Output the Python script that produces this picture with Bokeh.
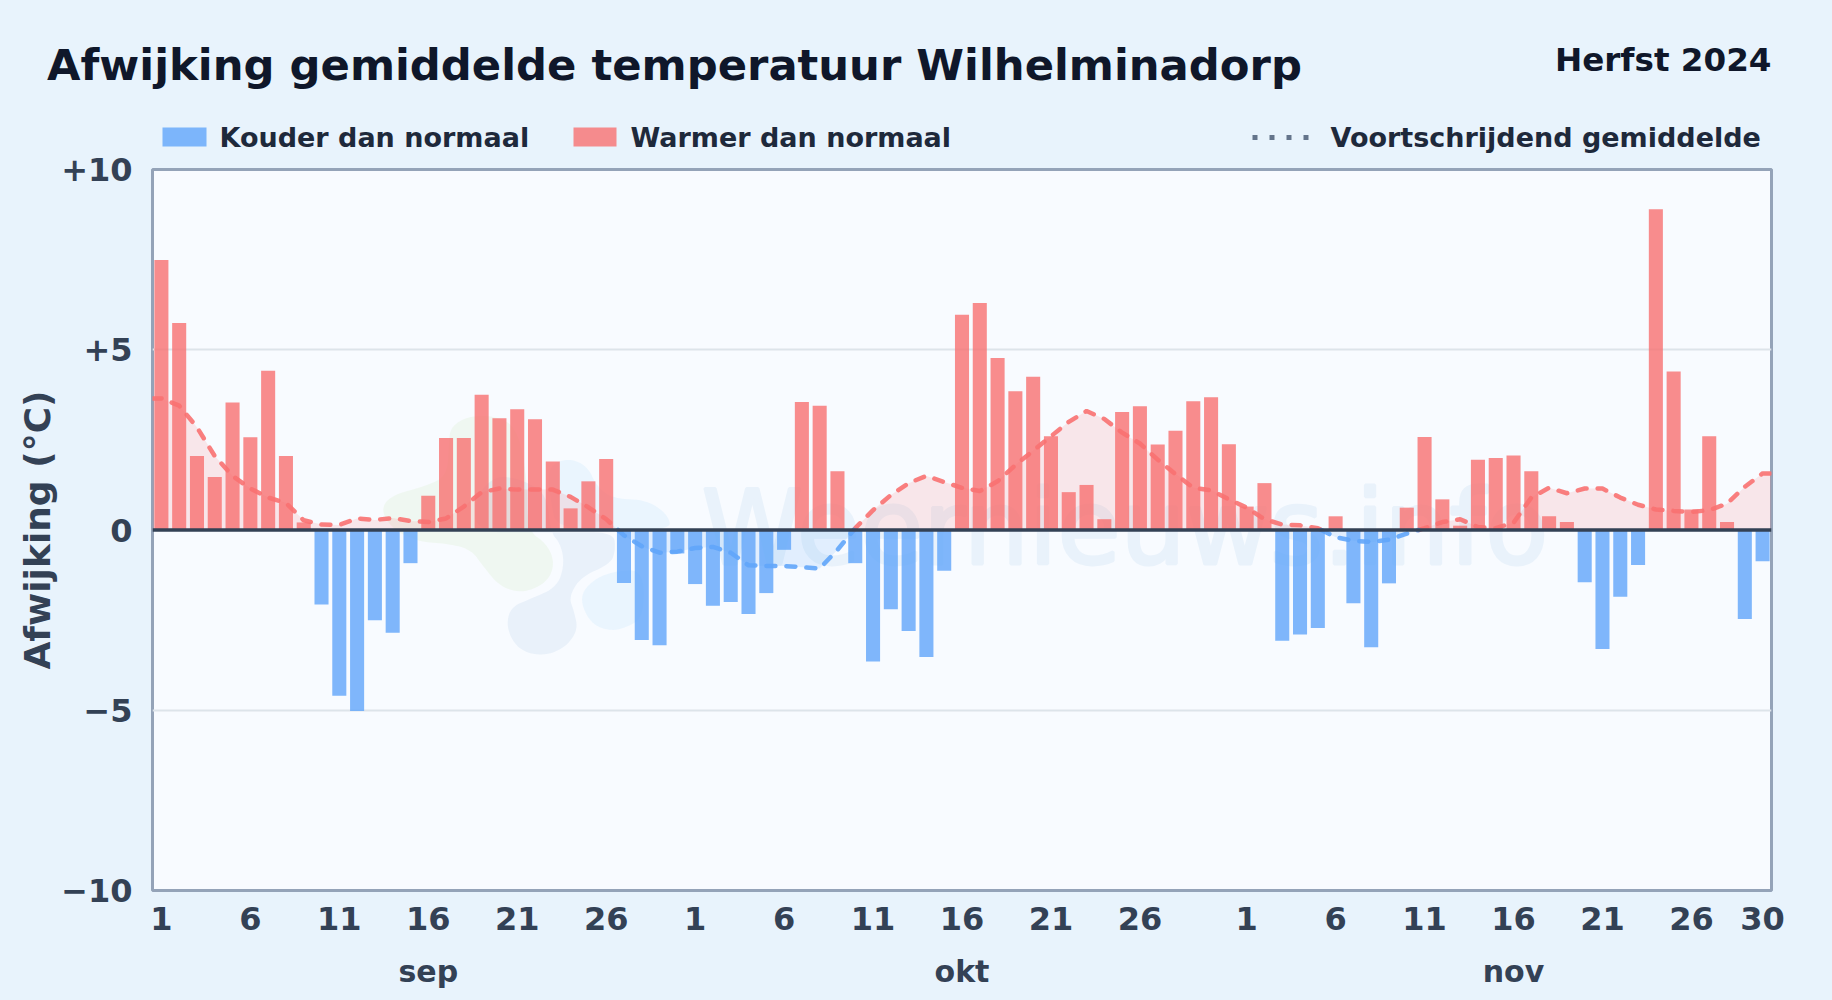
from bokeh.plotting import figure
from bokeh.embed import file_html
from bokeh.resources import INLINE
from bokeh.layouts import column
from bokeh.core.properties import value
from bokeh.models import Range1d, FixedTicker, LinearAxis, Span
import numpy as np

DAY_LABELS = ["1","6","11","16","21","26","1","6","11","16","21","26","1","6","11","16","21","26","30"]
DAY_POS = [0,5,10,15,20,25,30,35,40,45,50,55,61,66,71,76,81,86,90]
MONTHS = ["sep","okt","nov"]
MONTH_POS = [15,45,76]
Y_TICKS = [-10,-5,0,5,10]
Y_LABELS = {-10:"\u221210",-5:"\u22125",0:"0",5:"+5",10:"+10"}

DEVIATION = [7.49,5.74,2.05,1.47,3.54,2.57,4.42,2.05,0.21,-2.07,-4.6,-5.02,-2.5,-2.85,-0.92,
 0.95,2.55,2.55,3.75,3.1,3.35,3.07,1.9,0.6,1.35,1.97,-1.47,-3.05,-3.2,-0.65,
 -1.5,-2.1,-2.0,-2.33,-1.75,-0.55,3.55,3.45,1.63,-0.92,-3.65,-2.2,-2.8,-3.52,-1.13,
 5.97,6.3,4.77,3.85,4.25,2.6,1.05,1.25,0.3,3.27,3.43,2.37,2.75,3.57,3.68,2.38,
 0.65,1.3,-3.07,-2.9,-2.72,0.38,-2.03,-3.25,-1.48,0.62,2.58,0.85,0.12,1.95,2.0,2.07,1.63,0.38,0.22,
 -1.45,-3.3,-1.85,-0.97,8.9,4.4,0.57,2.6,0.22,-2.47,-0.87]
SMOOTH = [3.65,3.45,2.85,2.05,1.5,1.15,0.9,0.75,0.27,0.15,0.14,0.32,0.28,0.33,0.25,
 0.22,0.32,0.65,1.05,1.15,1.12,1.12,1.12,0.92,0.63,0.3,-0.15,-0.45,-0.63,-0.6,
 -0.5,-0.47,-0.63,-0.98,-1.0,-1.0,-1.03,-1.07,-0.55,0.05,0.55,0.97,1.3,1.5,1.33,
 1.17,1.08,1.35,1.8,2.2,2.6,3.0,3.3,3.08,2.7,2.4,1.95,1.55,1.17,1.1,0.85,
 0.62,0.3,0.15,0.13,0.05,-0.2,-0.3,-0.33,-0.27,-0.1,0.05,0.22,0.3,0.08,0.05,0.2,0.9,1.17,1.02,
 1.15,1.15,0.9,0.7,0.57,0.53,0.5,0.55,0.73,1.2,1.57]

BG = "#e8f3fc"
FONT = value("DejaVu Sans")
W, H = 1832, 1000
HEAD = 156                              # height of the header strip
OVERLAP = 16                            # the chart's canvas starts this far above the header's end
FL, FR, FT, FB = 152, 1771, 169, 890    # plot frame on the page
XMIN, XMAX = -0.5, 90.5

# ---------- header strip: title, period and legend, in page pixels ----------
h = figure(width=W, height=HEAD, output_backend="svg", toolbar_location=None,
           x_range=Range1d(0, W), y_range=Range1d(HEAD, 0),
           x_axis_location=None, y_axis_location=None, frame_align=False,
           min_border_left=0, min_border_right=0, min_border_top=0, min_border_bottom=0)
h.grid.visible = False
h.outline_line_color = None
h.background_fill_color = BG
h.border_fill_color = BG

def htext(px, py, s, size, color, align="left"):
    h.text([px], [py], text=[s], text_font=FONT, text_font_style="bold", text_font_size=size,
           text_color=color, text_align=align, text_baseline="alphabetic")

htext(46.5, 64, "Afwijking gemiddelde temperatuur Wilhelminadorp", "43.3px", "#0f172a")
htext(1771, 59.5, "Herfst 2024", "32.6px", "#0f172a", align="right")
LEGEND_FONT = "27px"
htext(219, 137, "Kouder dan normaal", LEGEND_FONT, "#1e293b")
htext(630, 137, "Warmer dan normaal", LEGEND_FONT, "#1e293b")
htext(1330, 137, "Voortschrijdend gemiddelde", LEGEND_FONT, "#1e293b")
h.quad(left=[162], right=[206], top=[127], bottom=[146], fill_color="#60a5fa", fill_alpha=0.8, line_color=None)
h.quad(left=[573], right=[616], top=[127], bottom=[146], fill_color="#f87171", fill_alpha=0.8, line_color=None)
h.line([1252, 1308], [137, 137], line_color="#64748b", line_width=5, line_dash="5 12")

# ---------- main chart ----------
TOP = HEAD - OVERLAP
p = figure(width=W, height=H-TOP, output_backend="svg", toolbar_location=None,
           x_range=Range1d(XMIN, XMAX), y_range=Range1d(-10, 10), frame_align=False,
           margin=(-OVERLAP, 0, 0, 0),
           min_border_left=FL, min_border_right=W-FR, min_border_top=FT-TOP, min_border_bottom=H-FB)
p.background_fill_color = "#f8fbff"
p.border_fill_color = None
p.outline_line_color = "#94a3b8"
p.outline_line_width = 3

DX = (FR-FL)/91
X0 = FL + DX/2
DY = (FB-FT)/20
Y0 = (FB+FT)/2

# watermark: logo blobs traced in page pixels, rounded and mapped on the scales
def to_data(pts):
    a = np.array(pts, float)
    for _ in range(3):
        b = np.roll(a, -1, axis=0)
        a = np.column_stack([0.75*a + 0.25*b, 0.25*a + 0.75*b]).reshape(-1, 2)
    px = 360 + a[:, 0]/3
    py = 400 + a[:, 1]/3
    return ((px - X0)/DX).tolist(), ((Y0 - py)/DY).tolist()

LOGO = [
 ([(270,80),(320,48),(400,45),(470,80),(500,230),(500,390),(560,430),(583,490),(560,545),(490,578),(420,560),(370,500),(330,445),(250,428),(180,425),(100,390),(60,330),(90,285),(200,255),(260,225),(265,130)], "#a3d977", 0.10),
 ([(340,300),(400,225),(480,235),(560,280),(570,395),(600,430),(612,490),(590,560),(510,595),(450,620),(437,680),(470,745),(540,768),(610,745),(653,690),(640,630),(625,590),(660,530),(750,490),(765,450),(760,395),(620,395),(500,395),(350,395)], "#6f9bd1", 0.10),
 ([(560,200),(620,172),(680,195),(710,260),(760,295),(860,298),(925,345),(930,392),(590,392),(570,300)], "#7cc4fa", 0.11),
 ([(655,590),(700,535),(770,510),(850,510),(850,650),(800,680),(750,692),(690,670)], "#7cc4fa", 0.11),
]
for pts, col, al in LOGO:
    xs, ys = to_data(pts)
    p.patch(xs, ys, fill_color=col, fill_alpha=al, line_color=None)

p.text([(701-X0)/DX], [(Y0-528)/DY], text=["Weernieuws.info"], text_font=FONT, text_font_size="102.7px",
       text_color="#e9f2fb", text_outline_color="#e9f2fb", text_baseline="alphabetic")

p.grid.visible = False
p.ygrid.visible = True
p.ygrid.ticker = FixedTicker(ticks=[-5, 5])
p.ygrid.grid_line_color = "#dde4ea"
p.ygrid.grid_line_width = 2

x = np.arange(len(DEVIATION))
dev = np.array(DEVIATION)
mask = dev >= 0
p.vbar(x=x[mask], top=dev[mask], bottom=0, width=0.79, fill_color="#f87171", fill_alpha=0.8, line_color=None)
p.vbar(x=x[~mask], top=dev[~mask], bottom=0, width=0.79, fill_color="#60a5fa", fill_alpha=0.8, line_color=None)

# moving average, split where it changes sign; it runs on flat to both frame edges
xs2, ys2 = [XMIN], [SMOOTH[0]]
for i, v in enumerate(SMOOTH):
    if i and SMOOTH[i-1]*v < 0:
        xs2.append(i-1 + SMOOTH[i-1]/(SMOOTH[i-1]-v))
        ys2.append(0.0)
    xs2.append(float(i)); ys2.append(v)
xs2.append(XMAX); ys2.append(SMOOTH[-1])
xs2 = np.array(xs2); ys2 = np.array(ys2)
p.varea(xs2, np.zeros_like(ys2), np.maximum(ys2, 0), fill_color="#f87171", fill_alpha=0.15)
p.varea(xs2, np.zeros_like(ys2), np.minimum(ys2, 0), fill_color="#60a5fa", fill_alpha=0.15)
p.line(xs2, np.where(ys2 >= 0, ys2, np.nan), line_color="#f87171", line_width=4.5, line_dash="9 11", line_cap="round", line_alpha=0.9)
p.line(xs2, np.where(ys2 <= 0, ys2, np.nan), line_color="#60a5fa", line_width=4.5, line_dash="9 11", line_cap="round", line_alpha=0.9)
p.add_layout(Span(location=0, dimension="width", line_color="#334155", line_width=3.5))

p.yaxis.ticker = FixedTicker(ticks=Y_TICKS)
p.yaxis.major_label_overrides = Y_LABELS
p.yaxis.axis_label = "Afwijking (\u00b0C)"
p.yaxis.axis_label_text_font = "DejaVu Sans"
p.yaxis.axis_label_text_font_style = "bold"
p.yaxis.axis_label_text_font_size = "36px"
p.yaxis.axis_label_text_color = "#334155"
p.yaxis.axis_label_standoff = 0
p.xaxis.ticker = FixedTicker(ticks=DAY_POS)
# day labels repeat across months, so the overrides are keyed on position
p.xaxis.major_label_overrides = {k: v for k, v in zip(DAY_POS, DAY_LABELS)}

month_axis = LinearAxis(ticker=FixedTicker(ticks=MONTH_POS),
                        major_label_overrides={k: v for k, v in zip(MONTH_POS, MONTHS)})
p.add_layout(month_axis, "below")

for ax in (p.xaxis[0], p.yaxis[0], month_axis):
    ax.axis_line_color = None
    ax.major_tick_line_color = None
    ax.minor_tick_line_color = None
    ax.major_label_text_font = "DejaVu Sans"
    ax.major_label_text_font_style = "bold"
    ax.major_label_text_font_size = "32px"
    ax.major_label_text_color = "#334155"
p.yaxis.major_label_standoff = 14
p.xaxis[0].major_label_standoff = 10
month_axis.major_label_text_font_size = "30px"
month_axis.major_label_standoff = 15

page = column(h, p, spacing=0)
html = file_html(page, INLINE)
html = html.replace("<head>", "<head><style>html,body{background:%s;overflow:hidden;}</style>" % BG, 1)
open("out.html", "w").write(html)
